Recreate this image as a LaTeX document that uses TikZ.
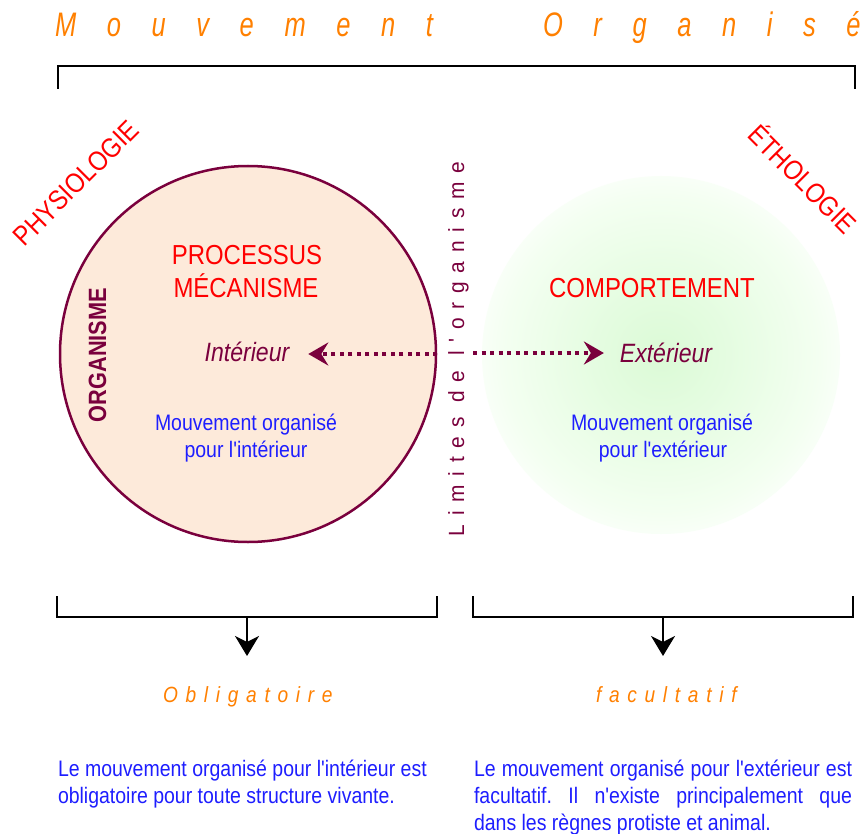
\documentclass[tikz,border=0pt]{standalone}
\usepackage{fontspec}
\setmainfont{Liberation Sans}[FakeStretch=0.87,Ligatures=TeXOff]
\newfontfamily\titlefont{Liberation Sans}[FakeStretch=0.75,LetterSpace=90,Ligatures=TeXOff]
\newfontfamily\subfont{Liberation Sans}[FakeStretch=0.87,LetterSpace=35,Ligatures=TeXOff]
\newfontfamily\limfont{Liberation Sans}[FakeStretch=0.95,LetterSpace=40,Ligatures=TeXOff]
\usetikzlibrary{arrows.meta}
\frenchspacing
\definecolor{orangeT}{RGB}{255,128,0}
\definecolor{redT}{RGB}{255,0,0}
\definecolor{maroon}{RGB}{122,0,61}
\definecolor{blueT}{RGB}{30,30,255}
\definecolor{peach}{RGB}{253,234,218}
\pgfdeclareradialshading{greenglow}{\pgfpoint{0bp}{0bp}}{%
  rgb(0bp)=(0.86,0.98,0.84);
  rgb(10bp)=(0.90,0.99,0.885);
  rgb(22bp)=(0.955,1,0.945);
  rgb(25bp)=(0.975,1,0.97);
  rgb(26bp)=(1,1,1);
  rgb(50bp)=(1,1,1)}
\tikzset{
  txt/.style={inner sep=0pt, outer sep=0pt},
  titletxt/.style={txt, text=orangeT, font=\titlefont\itshape\fontsize{34}{40}\selectfont},
  subtxt/.style={txt, text=orangeT, font=\subfont\itshape\fontsize{22}{26}\selectfont},
  bigred/.style={txt, text=redT, font=\fontsize{27.5}{32}\selectfont},
  diagred/.style={txt, text=redT, font=\fontsize{27.5}{32}\selectfont},
  dirtxt/.style={txt, text=maroon, font=\itshape\fontsize{26.5}{30}\selectfont},
  bluetxt/.style={txt, text=blueT, font=\fontsize{22.4}{27}\selectfont},
  bracket/.style={draw=black, line width=2pt},
  dotarrow/.style={draw=maroon, line width=3.5pt, dash pattern=on 4pt off 4.5pt,
    -{Stealth[length=20pt,width=23pt,inset=7pt,fill=maroon]}},
  downarrow/.style={draw=black, line width=2pt,
    -{Stealth[length=20pt,width=24pt,inset=6pt]}}
}
\begin{document}
\begin{tikzpicture}[x=1pt,y=-1pt]
\useasboundingbox[fill=white] (0,0) rectangle (864,834);

% title
\node[titletxt, anchor=base west] (t1) at (55,37) {Mouvement};
\node[titletxt, anchor=base west] (t2) at (543,37) {Organisé};
\draw[bracket] (58,89) -- (58,66) -- (855,66) -- (855,89);

% circles
\node[circle, draw=maroon, fill=peach, line width=2.5pt, minimum size=376pt, inner sep=0pt] (lc) at (248,354) {};
\node[circle, shade, shading=greenglow, minimum size=358pt, inner sep=0pt] (rc) at (661,355) {};

% diagonal labels
\node[diagred, rotate=45] (phys) at (76,183) {PHYSIOLOGIE};
\node[diagred, rotate=-45] (etho) at (804,178) {ÉTHOLOGIE};

% left circle content
\node[txt, text=maroon, font=\bfseries\fontsize{25}{30}\selectfont, rotate=90, anchor=base] (org) at (106,355) {ORGANISME};
\node[bigred, anchor=base] (proc) at (247,265) {PROCESSUS};
\node[bigred, anchor=base] (meca) at (246,297) {MÉCANISME};
\node[dirtxt, anchor=base] (intr) at (247,361) {Intérieur};
\node[bluetxt, anchor=base] (mi1) at (246,430) {Mouvement organisé};
\node[bluetxt, anchor=base] (mi2) at (246,457) {pour l'intérieur};

% limit label
\node[txt, text=maroon, font=\limfont\fontsize{22}{26}\selectfont, rotate=90, anchor=base] (lim) at (464,349) {Limites de l'organisme};

% right circle content
\node[bigred, anchor=base] (comp) at (652,297) {COMPORTEMENT};
\node[dirtxt, anchor=base] (extr) at (666,362) {Extérieur};
\node[bluetxt, anchor=base] (me1) at (662,430) {Mouvement organisé};
\node[bluetxt, anchor=base] (me2) at (663,457) {pour l'extérieur};

% dotted arrows
\coordinate (rstart) at (473,353);
\draw[dotarrow, shorten >=19pt] (lc.east) -- (lc.east -| intr.east);
\draw[dotarrow, shorten >=16pt] (rstart) -- (rstart -| extr.west);

% bottom brackets
\draw[bracket] (57,596) -- (57,617) -- (437,617) -- (437,596);
\draw[bracket] (473,596) -- (473,617) -- (853,617) -- (853,596);
\coordinate (lb) at (247,617);
\coordinate (lbe) at (247,656);
\coordinate (rb) at (663,617);
\coordinate (rbe) at (663,656);
\draw[downarrow] (lb) -- (lbe);
\draw[downarrow] (rb) -- (rbe);

\node[subtxt, anchor=base west] (obl) at (163,702) {Obligatoire};
\node[subtxt, anchor=base west] (fac) at (596,702) {facultatif};

% bottom paragraphs
\node[bluetxt, anchor=north west, align=left] (pl) at (58,760)
  {Le mouvement organisé pour l'intérieur est\\obligatoire pour toute structure vivante.};
\node[bluetxt, anchor=north west, text width=378pt, align=justify] (pr) at (474,760)
  {\hyphenpenalty=10000 Le mouvement organisé pour l'extérieur est\linebreak facultatif. Il n'existe principalement que\linebreak dans les règnes protiste et animal.};
\end{tikzpicture}
\end{document}
